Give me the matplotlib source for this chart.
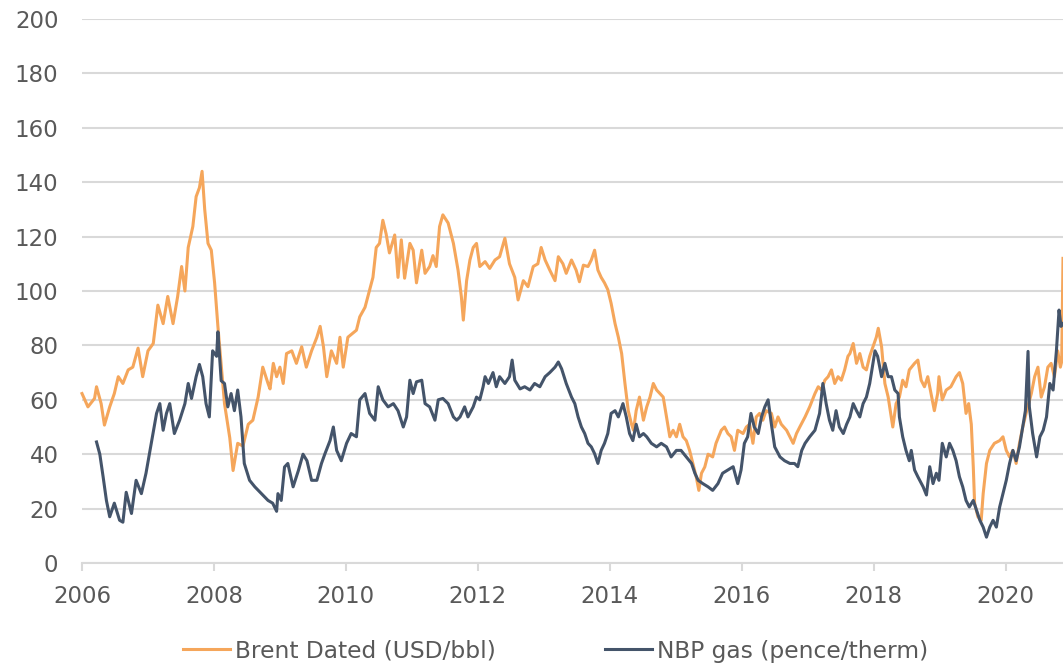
"""Brent Dated vs NBP gas, 2006-2020 (decimal-year axis)."""

import matplotlib
matplotlib.use("Agg")
import matplotlib.pyplot as plt

# ---- data (decimal years) ----
brent_years = [
    2006.00, 2006.09, 2006.19, 2006.22, 2006.29, 2006.34, 2006.42, 2006.49, 2006.55, 2006.62,
    2006.70, 2006.77, 2006.85, 2006.92, 2007.00, 2007.08, 2007.15, 2007.23, 2007.30, 2007.38,
    2007.45, 2007.51, 2007.56, 2007.61, 2007.68, 2007.73, 2007.78, 2007.82, 2007.86, 2007.91,
    2007.96, 2008.01, 2008.06, 2008.11, 2008.16, 2008.24, 2008.29, 2008.36, 2008.44, 2008.52,
    2008.59, 2008.67, 2008.74, 2008.82, 2008.85, 2008.90, 2008.95, 2009.00, 2009.05, 2009.10,
    2009.18, 2009.25, 2009.33, 2009.40, 2009.48, 2009.56, 2009.61, 2009.66, 2009.71, 2009.78,
    2009.86, 2009.91, 2009.96, 2010.03, 2010.08, 2010.16, 2010.21, 2010.29, 2010.36, 2010.41,
    2010.46, 2010.51, 2010.56, 2010.61, 2010.66, 2010.74, 2010.79, 2010.84, 2010.89, 2010.97,
    2011.02, 2011.07, 2011.15, 2011.20, 2011.27, 2011.32, 2011.37, 2011.42, 2011.47, 2011.55,
    2011.63, 2011.70, 2011.75, 2011.78, 2011.83, 2011.88, 2011.93, 2011.98, 2012.03, 2012.11,
    2012.18, 2012.26, 2012.33, 2012.41, 2012.48, 2012.56, 2012.61, 2012.69, 2012.76, 2012.84,
    2012.91, 2012.96, 2013.02, 2013.09, 2013.17, 2013.22, 2013.29, 2013.34, 2013.42, 2013.49,
    2013.54, 2013.60, 2013.67, 2013.72, 2013.77, 2013.82, 2013.87, 2013.92, 2013.97, 2014.02,
    2014.08, 2014.13, 2014.18, 2014.23, 2014.28, 2014.33, 2014.36, 2014.40, 2014.45, 2014.51,
    2014.56, 2014.61, 2014.66, 2014.71, 2014.76, 2014.81, 2014.86, 2014.91, 2014.96, 2015.01,
    2015.06, 2015.11, 2015.16, 2015.21, 2015.26, 2015.31, 2015.35, 2015.39, 2015.44, 2015.49,
    2015.56, 2015.61, 2015.69, 2015.74, 2015.79, 2015.84, 2015.89, 2015.94, 2016.02, 2016.07,
    2016.12, 2016.17, 2016.22, 2016.27, 2016.32, 2016.37, 2016.45, 2016.50, 2016.55, 2016.60,
    2016.68, 2016.73, 2016.78, 2016.83, 2016.88, 2016.96, 2017.03, 2017.11, 2017.16, 2017.21,
    2017.26, 2017.31, 2017.36, 2017.41, 2017.46, 2017.51, 2017.56, 2017.61, 2017.64, 2017.69,
    2017.74, 2017.79, 2017.84, 2017.89, 2017.94, 2017.99, 2018.04, 2018.07, 2018.12, 2018.17,
    2018.22, 2018.29, 2018.34, 2018.39, 2018.44, 2018.49, 2018.54, 2018.62, 2018.67, 2018.72,
    2018.77, 2018.82, 2018.87, 2018.92, 2018.97, 2018.99, 2019.04, 2019.10, 2019.17, 2019.25,
    2019.30, 2019.35, 2019.40, 2019.44, 2019.48, 2019.51, 2019.53, 2019.58, 2019.63, 2019.66,
    2019.71, 2019.76, 2019.83, 2019.91, 2019.96, 2020.01, 2020.06, 2020.11, 2020.16, 2020.21,
    2020.26, 2020.31, 2020.39, 2020.44, 2020.49, 2020.54, 2020.59, 2020.64, 2020.69, 2020.74,
    2020.79, 2020.83, 2020.85, 2020.87,
]
brent_usd_bbl = [
    62.3, 57.4, 60.5, 64.8, 58.6, 50.7, 57.4, 62.3, 68.5, 66.0,
    71.0, 72.0, 79.0, 68.5, 78.0, 80.7, 94.8, 88.0, 98.0, 88.0,
    98.0, 109.0, 100.0, 116.0, 123.7, 134.7, 138.0, 144.0, 130.0, 117.5,
    115.0, 103.0, 87.0, 73.0, 58.6, 46.0, 34.0, 44.0, 43.0, 51.0,
    52.5, 61.0, 72.0, 66.0, 64.0, 73.4, 68.5, 72.0, 66.0, 77.0,
    78.0, 73.4, 79.5, 72.0, 78.0, 83.0, 87.0, 79.5, 68.5, 78.0,
    73.4, 83.0, 72.0, 83.0, 84.0, 85.6, 90.5, 94.0, 100.5, 105.0,
    116.0, 117.5, 126.0, 121.0, 114.0, 120.6, 105.0, 118.8, 104.7, 117.5,
    115.0, 103.0, 115.0, 106.5, 109.0, 113.0, 109.0, 123.7, 128.0, 125.0,
    117.5, 107.7, 98.0, 89.3, 103.8, 111.4, 116.0, 117.5, 109.0, 110.8,
    108.3, 111.4, 112.6, 119.4, 110.0, 105.0, 96.7, 103.8, 101.6, 109.0,
    110.0, 116.0, 111.4, 107.7, 103.8, 112.6, 110.0, 106.5, 111.4, 107.7,
    103.4, 109.5, 109.0, 111.4, 115.0, 107.7, 105.0, 103.0, 100.5, 95.5,
    88.0, 83.0, 77.0, 66.0, 56.0, 51.0, 48.8, 56.0, 61.0, 52.5,
    57.4, 61.0, 66.0, 63.6, 62.3, 61.0, 53.7, 46.4, 48.8, 46.4,
    51.0, 46.4, 45.0, 41.4, 36.6, 31.7, 26.7, 33.0, 35.3, 40.0,
    39.0, 44.0, 48.8, 50.0, 47.6, 46.4, 41.4, 48.8, 47.6, 50.0,
    51.0, 44.0, 53.7, 55.0, 52.5, 56.0, 55.0, 50.0, 53.7, 51.0,
    48.8, 46.4, 44.0, 47.6, 50.0, 53.7, 57.4, 62.3, 64.8, 63.6,
    67.2, 68.5, 71.0, 66.0, 68.5, 67.2, 71.0, 76.0, 77.0, 80.7,
    73.4, 77.0, 72.0, 71.0, 76.0, 79.5, 83.0, 86.3, 79.5, 66.0,
    61.0, 50.0, 58.6, 61.0, 67.2, 64.8, 71.0, 73.4, 74.6, 67.2,
    64.8, 68.5, 62.3, 56.0, 62.3, 68.5, 60.0, 63.6, 64.8, 68.5,
    70.0, 66.0, 55.0, 58.6, 51.0, 35.4, 22.0, 17.0, 15.7, 25.5,
    36.6, 41.4, 44.0, 45.0, 46.4, 41.4, 39.0, 41.4, 36.6, 44.0,
    50.0, 55.0, 62.3, 68.5, 72.0, 61.0, 64.8, 72.0, 73.4, 68.5,
    78.0, 72.0, 74.0, 112.0,
]

nbp_years = [
    2006.22, 2006.27, 2006.32, 2006.37, 2006.42, 2006.49, 2006.57, 2006.62, 2006.67, 2006.75,
    2006.82, 2006.90, 2006.97, 2007.05, 2007.13, 2007.18, 2007.23, 2007.28, 2007.33, 2007.40,
    2007.48, 2007.56, 2007.61, 2007.66, 2007.73, 2007.78, 2007.83, 2007.88, 2007.93, 2007.98,
    2008.04, 2008.06, 2008.11, 2008.16, 2008.21, 2008.26, 2008.31, 2008.36, 2008.41, 2008.46,
    2008.54, 2008.62, 2008.72, 2008.82, 2008.89, 2008.95, 2008.97, 2009.02, 2009.07, 2009.12,
    2009.20, 2009.28, 2009.35, 2009.41, 2009.48, 2009.56, 2009.63, 2009.68, 2009.76, 2009.81,
    2009.86, 2009.93, 2010.01, 2010.08, 2010.16, 2010.21, 2010.29, 2010.36, 2010.44, 2010.49,
    2010.56, 2010.64, 2010.72, 2010.79, 2010.87, 2010.92, 2010.97, 2011.02, 2011.07, 2011.15,
    2011.20, 2011.27, 2011.35, 2011.40, 2011.47, 2011.55, 2011.63, 2011.68, 2011.73, 2011.80,
    2011.85, 2011.93, 2011.98, 2012.03, 2012.08, 2012.11, 2012.16, 2012.23, 2012.28, 2012.33,
    2012.41, 2012.48, 2012.52, 2012.56, 2012.64, 2012.71, 2012.79, 2012.86, 2012.94, 2013.02,
    2013.09, 2013.17, 2013.22, 2013.27, 2013.34, 2013.42, 2013.47, 2013.52, 2013.57, 2013.62,
    2013.67, 2013.72, 2013.77, 2013.82, 2013.87, 2013.92, 2013.97, 2014.02, 2014.08, 2014.13,
    2014.20, 2014.25, 2014.30, 2014.35, 2014.40, 2014.45, 2014.51, 2014.56, 2014.63, 2014.71,
    2014.78, 2014.86, 2014.93, 2015.01, 2015.08, 2015.16, 2015.24, 2015.29, 2015.34, 2015.41,
    2015.49, 2015.56, 2015.64, 2015.71, 2015.79, 2015.87, 2015.94, 2015.99, 2016.04, 2016.09,
    2016.14, 2016.19, 2016.25, 2016.30, 2016.35, 2016.40, 2016.45, 2016.50, 2016.58, 2016.65,
    2016.73, 2016.80, 2016.85, 2016.91, 2016.96, 2017.03, 2017.11, 2017.18, 2017.23, 2017.28,
    2017.33, 2017.38, 2017.43, 2017.48, 2017.54, 2017.59, 2017.64, 2017.69, 2017.74, 2017.79,
    2017.84, 2017.89, 2017.94, 2017.99, 2018.02, 2018.06, 2018.12, 2018.17, 2018.22, 2018.27,
    2018.32, 2018.37, 2018.39, 2018.44, 2018.49, 2018.54, 2018.57, 2018.62, 2018.67, 2018.75,
    2018.80, 2018.85, 2018.90, 2018.95, 2018.99, 2019.04, 2019.10, 2019.15, 2019.20, 2019.25,
    2019.30, 2019.35, 2019.40, 2019.45, 2019.51, 2019.56, 2019.61, 2019.66, 2019.71, 2019.76,
    2019.81, 2019.86, 2019.91, 2019.96, 2020.01, 2020.06, 2020.11, 2020.16, 2020.21, 2020.26,
    2020.30, 2020.34, 2020.36, 2020.41, 2020.47, 2020.52, 2020.57, 2020.62, 2020.67, 2020.72,
    2020.77, 2020.81, 2020.84, 2020.87,
]
nbp_pence_therm = [
    44.5, 40.0, 31.7, 23.0, 17.0, 22.0, 15.7, 15.0, 26.0, 18.2,
    30.4, 25.5, 33.0, 44.0, 55.0, 58.6, 48.8, 55.0, 58.6, 47.6,
    52.5, 58.6, 66.0, 60.5, 68.5, 73.0, 68.5, 58.6, 53.7, 78.0,
    76.0, 85.0, 67.0, 66.0, 57.4, 62.3, 56.0, 63.6, 53.7, 36.6,
    30.4, 28.0, 25.5, 23.0, 22.0, 19.0, 25.5, 23.0, 35.3, 36.6,
    28.0, 34.0, 40.0, 37.6, 30.4, 30.4, 36.6, 40.0, 45.0, 50.0,
    41.4, 37.6, 44.0, 47.6, 46.4, 60.0, 62.3, 55.0, 52.5, 64.8,
    60.0, 57.4, 58.6, 56.0, 50.0, 53.7, 67.2, 62.3, 66.6, 67.2,
    58.6, 57.4, 52.5, 60.0, 60.5, 58.6, 53.7, 52.5, 53.7, 57.4,
    53.7, 57.4, 61.0, 60.0, 64.8, 68.5, 66.0, 70.0, 64.8, 68.5,
    66.0, 68.5, 74.6, 67.2, 64.0, 64.8, 63.6, 66.0, 64.8, 68.5,
    70.0, 72.0, 73.9, 71.4, 66.0, 61.0, 58.6, 53.7, 50.0, 47.6,
    44.0, 42.7, 40.2, 36.6, 41.4, 44.0, 47.6, 55.0, 56.0, 53.7,
    58.6, 53.7, 47.6, 45.0, 51.0, 46.4, 47.6, 46.4, 44.0, 42.7,
    44.0, 42.7, 39.0, 41.4, 41.4, 39.0, 36.6, 33.0, 30.4, 29.2,
    28.0, 26.7, 29.2, 33.0, 34.2, 35.4, 29.2, 34.2, 44.0, 46.4,
    55.0, 50.0, 47.6, 53.7, 57.4, 60.0, 51.0, 42.7, 39.0, 37.6,
    36.6, 36.6, 35.4, 41.4, 44.0, 46.4, 48.8, 55.0, 66.0, 58.6,
    52.5, 48.8, 56.0, 50.0, 47.6, 51.0, 53.7, 58.6, 56.0, 53.7,
    58.6, 61.0, 66.0, 73.4, 78.0, 76.0, 68.5, 73.4, 68.5, 68.5,
    63.6, 62.3, 53.7, 46.4, 41.4, 37.6, 41.4, 34.2, 31.7, 28.0,
    25.0, 35.4, 29.2, 33.0, 30.4, 44.0, 39.0, 44.0, 41.4, 37.6,
    31.7, 28.0, 23.0, 20.6, 23.0, 19.4, 15.7, 13.2, 9.5, 13.2,
    15.7, 13.2, 20.6, 25.5, 30.4, 36.6, 41.4, 37.6, 42.7, 50.0,
    56.0, 77.8, 57.4, 47.6, 39.0, 46.4, 48.8, 53.7, 66.0, 63.6,
    78.0, 93.0, 87.0, 88.0,
]

x_ticks = [2006, 2008, 2010, 2012, 2014, 2016, 2018, 2020]
y_ticks = [0, 20, 40, 60, 80, 100, 120, 140, 160, 180, 200]

# ---- style ----
ORANGE = "#F5A65B"; NAVY = "#44546A"; GRID = "#D9D9D9"; TEXT = "#595959"
plt.rcParams.update({
    "font.family": "DejaVu Sans", "font.size": 16.5,
    "text.color": TEXT, "xtick.color": GRID, "ytick.color": TEXT,
    "xtick.labelcolor": TEXT, "ytick.labelcolor": TEXT,
})

fig = plt.figure(figsize=(10.63, 6.66), dpi=100)
ax = fig.add_axes([82 / 1063, 103 / 666, 981 / 1063, 544 / 666])

ax.plot(brent_years, brent_usd_bbl, color=ORANGE, lw=2.2, label="Brent Dated (USD/bbl)",
        solid_joinstyle="round", clip_on=False)
ax.plot(nbp_years, nbp_pence_therm, color=NAVY, lw=2.2, label="NBP gas (pence/therm)",
        solid_joinstyle="round")

ax.set_xlim(2006, 2020.87)
ax.set_ylim(0, 200)
ax.set_xticks(x_ticks)
ax.set_xticklabels([str(t) for t in x_ticks])
ax.set_yticks(y_ticks)

ax.grid(axis="y", color=GRID, lw=1.5)
ax.set_axisbelow(True)
for side in ["top", "right", "left"]:
    ax.spines[side].set_visible(False)
ax.spines["bottom"].set_color(GRID)
ax.spines["bottom"].set_linewidth(1.5)
ax.tick_params(axis="y", length=0, pad=17)
ax.tick_params(axis="x", length=6, width=1.5, direction="out", pad=10)

fig.legend(loc="center", bbox_to_anchor=(0.5226, 0.0225), ncol=2, frameon=False,
           handlelength=2.0, handletextpad=0.2, columnspacing=4.7, fontsize=16.8)

fig.savefig("out.png", dpi=100)
